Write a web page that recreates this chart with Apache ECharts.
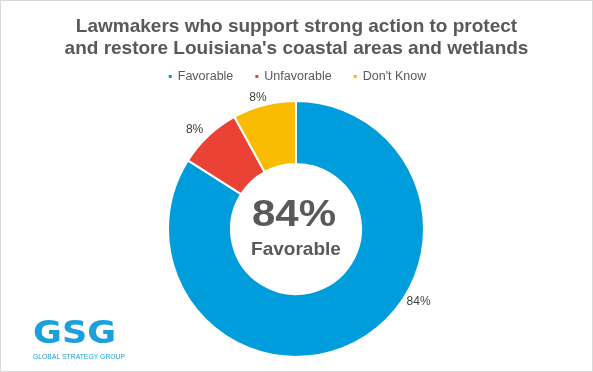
<!DOCTYPE html>
<html><head><meta charset="utf-8">
<script src="https://cdn.jsdelivr.net/npm/echarts@6/dist/echarts.min.js"></script>
<style>html,body{margin:0;padding:0;background:#fff}#c{width:593px;height:372px;box-sizing:border-box;border:1px solid #d9d9d9}</style>
</head><body><div id="c"></div>
<script>
const categories = ["Favorable", "Unfavorable", "Don't Know"];
const values = [84, 8, 8];
const colors = ["#009ddc", "#ea4335", "#f9bc00"];
const titleText = "Lawmakers who support strong action to protect\nand restore Louisiana's coastal areas and wetlands";

// label nudges to mimic Excel's outside label placement
const labelShift = [[41, -45], [4, -2], [9, -2]];

const chart = echarts.init(document.getElementById('c'));
chart.setOption({
  animation: false,
  title: {
    text: titleText, left: 'center', top: 10,
    textStyle: {fontFamily: 'Liberation Sans', fontSize: 19, fontWeight: 'bold', color: '#595959', lineHeight: 22}
  },
  legend: {
    top: 64, left: 'center', icon: 'rect', itemWidth: 5, itemHeight: 5, itemGap: 20,
    textStyle: {fontFamily: 'Liberation Sans', fontSize: 12.5, color: '#595959'},
    data: categories
  },
  series: [{
    type: 'pie', center: [295, 228], radius: [65, 128], startAngle: 90, clockwise: true,
    itemStyle: {borderColor: '#fff', borderWidth: 2},
    label: {show: true, position: 'outside', formatter: '{c}%', fontFamily: 'Liberation Sans', fontSize: 12, color: '#404040'},
    labelLine: {show: false, length: 6, length2: 0},
    labelLayout: function (p) { const s = labelShift[p.dataIndex]; return {dx: s[0], dy: s[1]}; },
    data: categories.map((n, i) => ({name: n, value: values[i], itemStyle: {color: colors[i]}}))
  }],
  graphic: [
    {type: 'text', x: 293, y: 215, scaleY: 0.86, style: {text: values[0] + '%', fontFamily: 'Liberation Sans', fontWeight: 'bold', fontSize: 42, fill: '#595959', align: 'center', verticalAlign: 'middle'}},
    {type: 'text', x: 295, y: 249, style: {text: categories[0], fontFamily: 'Liberation Sans', fontWeight: 'bold', fontSize: 19, fill: '#595959', align: 'center', verticalAlign: 'middle'}},
    {type: 'text', x: 32, y: 334, scaleX: 1.1, style: {text: 'GSG', fontFamily: 'DejaVu Sans', fontWeight: 'bold', fontSize: 32, fill: '#1aa0dc', verticalAlign: 'middle'}},
    {type: 'text', x: 32, y: 356, style: {text: 'GLOBAL STRATEGY GROUP', fontFamily: 'Liberation Sans', fontSize: 6.8, fill: '#1aa0dc', verticalAlign: 'middle'}}
  ]
});
</script></body></html>
